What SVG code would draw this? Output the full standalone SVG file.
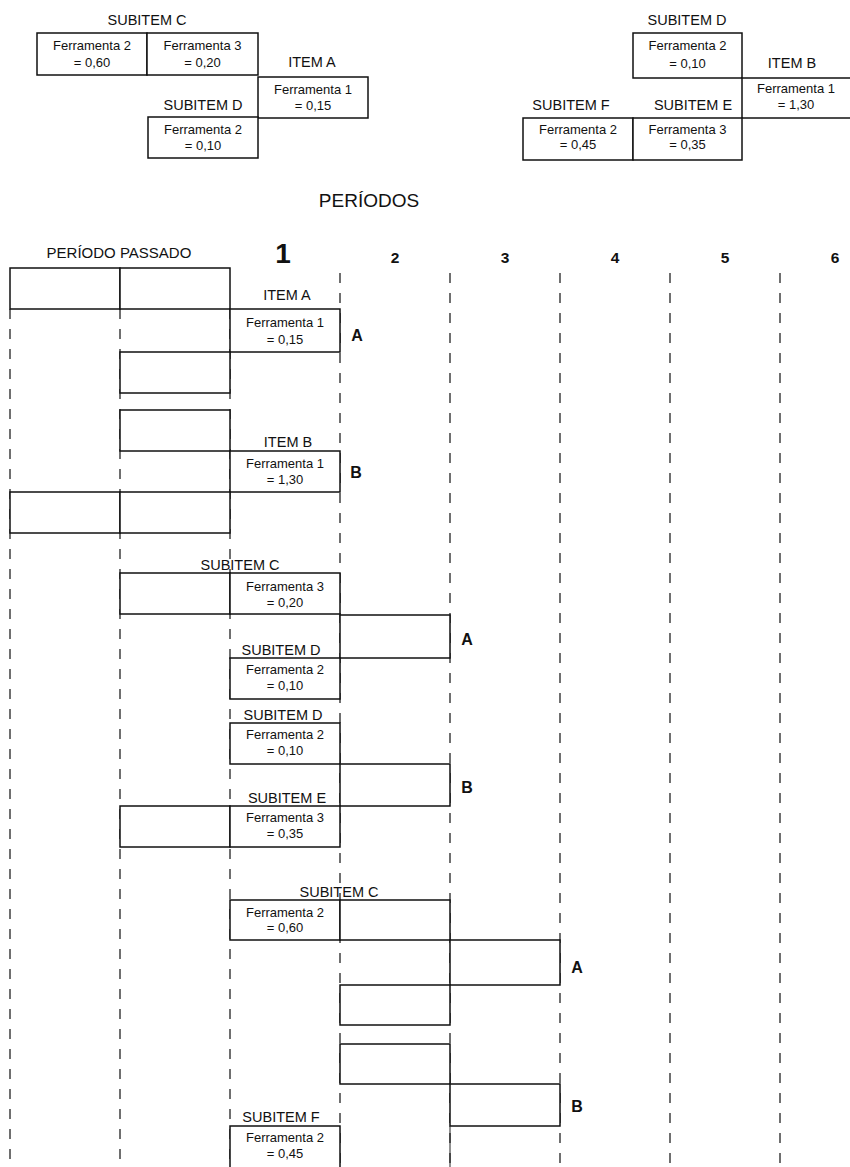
<svg xmlns="http://www.w3.org/2000/svg" width="850" height="1167" viewBox="0 0 850 1167">
  <style>
    .box { fill: #fff; stroke: #111; stroke-width: 1.5; }
    .grid line { stroke: #222; stroke-width: 1.3; stroke-dasharray: 10 10; }
    text { font-family: "Liberation Sans", Arial, sans-serif; fill: #111; text-anchor: middle; }
    .v { font-size: 13px; }
    .lbl { font-size: 14.5px; }
    .mk { font-size: 16px; font-weight: bold; }
    .num { font-size: 15.5px; font-weight: bold; }
  </style>
  <rect width="850" height="1167" fill="#fff"/>

  <!-- Item A breakdown (top left) -->
  <g id="top-subitem-c">
    <text class="lbl" x="147" y="25">SUBITEM C</text>
    <rect class="box" x="37" y="33" width="110" height="42"/>
    <rect class="box" x="147" y="33" width="111" height="42"/>
    <text class="v" x="92" y="50">Ferramenta 2</text>
    <text class="v" x="92" y="67">= 0,60</text>
    <text class="v" x="202.5" y="50">Ferramenta 3</text>
    <text class="v" x="202.5" y="67">= 0,20</text>
  </g>
  <g id="top-item-a">
    <text class="lbl" x="312" y="67">ITEM A</text>
    <rect class="box" x="258" y="77" width="110" height="41"/>
    <text class="v" x="313" y="94">Ferramenta 1</text>
    <text class="v" x="313" y="110">= 0,15</text>
  </g>
  <g id="top-subitem-d-a">
    <text class="lbl" x="203" y="110">SUBITEM D</text>
    <rect class="box" x="148" y="117" width="110" height="41"/>
    <text class="v" x="203" y="134">Ferramenta 2</text>
    <text class="v" x="203" y="150">= 0,10</text>
  </g>

  <!-- Item B breakdown (top right) -->
  <g id="top-subitem-d-b">
    <text class="lbl" x="687" y="25">SUBITEM D</text>
    <rect class="box" x="633" y="33" width="109" height="45"/>
    <text class="v" x="687.5" y="50">Ferramenta 2</text>
    <text class="v" x="687.5" y="68">= 0,10</text>
  </g>
  <g id="top-item-b">
    <text class="lbl" x="792" y="68">ITEM B</text>
    <rect class="box" x="742" y="78" width="112" height="40"/>
    <text class="v" x="796" y="93">Ferramenta 1</text>
    <text class="v" x="796" y="109">= 1,30</text>
  </g>
  <g id="top-subitem-f">
    <text class="lbl" x="571" y="110">SUBITEM F</text>
    <rect class="box" x="523" y="118" width="110" height="42"/>
    <text class="v" x="578" y="134">Ferramenta 2</text>
    <text class="v" x="578" y="149">= 0,45</text>
  </g>
  <g id="top-subitem-e">
    <text class="lbl" x="693" y="110">SUBITEM E</text>
    <rect class="box" x="633" y="118" width="109" height="42"/>
    <text class="v" x="687.5" y="134">Ferramenta 3</text>
    <text class="v" x="687.5" y="149">= 0,35</text>
  </g>

  <!-- Period headings -->
  <g id="headings">
    <text x="369" y="207" font-size="19">PERÍODOS</text>
    <text x="119" y="258" font-size="15">PERÍODO PASSADO</text>
    <text x="283" y="263" font-size="28" font-weight="bold">1</text>
    <text class="num" x="395" y="263">2</text>
    <text class="num" x="505" y="263">3</text>
    <text class="num" x="615" y="263">4</text>
    <text class="num" x="725" y="263">5</text>
    <text class="num" x="835" y="263">6</text>
  </g>

  <!-- Period boundaries -->
  <g id="connectors" class="grid">
    <line x1="10" y1="309" x2="10" y2="1167"/>
    <line x1="120" y1="309" x2="120" y2="1167"/>
    <line x1="230" y1="309" x2="230" y2="1167"/>
    <line x1="340" y1="273" x2="340" y2="1167"/>
    <line x1="450" y1="273" x2="450" y2="1167"/>
    <line x1="560" y1="273" x2="560" y2="1167"/>
    <line x1="670" y1="273" x2="670" y2="1167"/>
    <line x1="780" y1="273" x2="780" y2="1167"/>
  </g>

  <!-- Level 0: items A and B -->
  <g id="past-a">
    <rect class="box" x="10" y="268" width="110" height="41"/>
    <rect class="box" x="120" y="268" width="110" height="41"/>
  </g>
  <g id="item-a">
    <rect class="box" x="230" y="309" width="110" height="43"/>
    <text class="lbl" x="287" y="300">ITEM A</text>
    <text class="v" x="285" y="327">Ferramenta 1</text>
    <text class="v" x="285" y="344">= 0,15</text>
    <text class="mk" x="357" y="341">A</text>
  </g>
  <g id="past-a2">
    <rect class="box" x="120" y="352" width="110" height="41"/>
  </g>
  <g id="past-b">
    <rect class="box" x="120" y="410" width="110" height="41"/>
  </g>
  <g id="item-b">
    <rect class="box" x="230" y="451" width="110" height="41"/>
    <text class="lbl" x="288" y="447">ITEM B</text>
    <text class="v" x="285" y="468">Ferramenta 1</text>
    <text class="v" x="285" y="484">= 1,30</text>
    <text class="mk" x="356" y="478">B</text>
  </g>
  <g id="past-b2">
    <rect class="box" x="10" y="492" width="110" height="41"/>
    <rect class="box" x="120" y="492" width="110" height="41"/>
  </g>

  <!-- Level 1: subitems C, D, E -->
  <g id="subitem-c1">
    <rect class="box" x="120" y="573" width="110" height="41"/>
    <rect class="box" x="230" y="573" width="110" height="41"/>
    <text class="lbl" x="240" y="570">SUBITEM C</text>
    <text class="v" x="285" y="591">Ferramenta 3</text>
    <text class="v" x="285" y="607">= 0,20</text>
  </g>
  <g id="release-a1">
    <rect class="box" x="340" y="615" width="110" height="43"/>
    <text class="mk" x="467" y="645">A</text>
  </g>
  <g id="subitem-d1">
    <rect class="box" x="230" y="658" width="110" height="41"/>
    <text class="lbl" x="281" y="655">SUBITEM D</text>
    <text class="v" x="285" y="674">Ferramenta 2</text>
    <text class="v" x="285" y="690">= 0,10</text>
  </g>
  <g id="subitem-d2">
    <rect class="box" x="230" y="723" width="110" height="41"/>
    <text class="lbl" x="283" y="720">SUBITEM D</text>
    <text class="v" x="285" y="739">Ferramenta 2</text>
    <text class="v" x="285" y="755">= 0,10</text>
  </g>
  <g id="release-b1">
    <rect class="box" x="340" y="764" width="110" height="42"/>
    <text class="mk" x="467" y="793">B</text>
  </g>
  <g id="subitem-e1">
    <rect class="box" x="120" y="806" width="110" height="41"/>
    <rect class="box" x="230" y="806" width="110" height="41"/>
    <text class="lbl" x="287" y="803">SUBITEM E</text>
    <text class="v" x="285" y="822">Ferramenta 3</text>
    <text class="v" x="285" y="838">= 0,35</text>
  </g>

  <!-- Level 2: subitems C and F -->
  <g id="subitem-c2">
    <rect class="box" x="230" y="900" width="110" height="40"/>
    <rect class="box" x="340" y="900" width="110" height="40"/>
    <text class="lbl" x="339" y="897">SUBITEM C</text>
    <text class="v" x="285" y="917">Ferramenta 2</text>
    <text class="v" x="285" y="932">= 0,60</text>
  </g>
  <g id="release-a2">
    <rect class="box" x="450" y="940" width="110" height="45"/>
    <text class="mk" x="577" y="973">A</text>
  </g>
  <g id="block-a2">
    <rect class="box" x="340" y="985" width="110" height="40"/>
  </g>
  <g id="block-b2">
    <rect class="box" x="340" y="1044" width="110" height="40"/>
  </g>
  <g id="release-b2">
    <rect class="box" x="450" y="1084" width="110" height="42"/>
    <text class="mk" x="577" y="1112">B</text>
  </g>
  <g id="subitem-f2">
    <rect class="box" x="230" y="1126" width="110" height="50"/>
    <line x1="450" y1="1126" x2="450" y2="1167" stroke="#222" stroke-width="1"/>
    <text class="lbl" x="281" y="1122">SUBITEM F</text>
    <text class="v" x="285" y="1142">Ferramenta 2</text>
    <text class="v" x="285" y="1158">= 0,45</text>
  </g>
</svg>
